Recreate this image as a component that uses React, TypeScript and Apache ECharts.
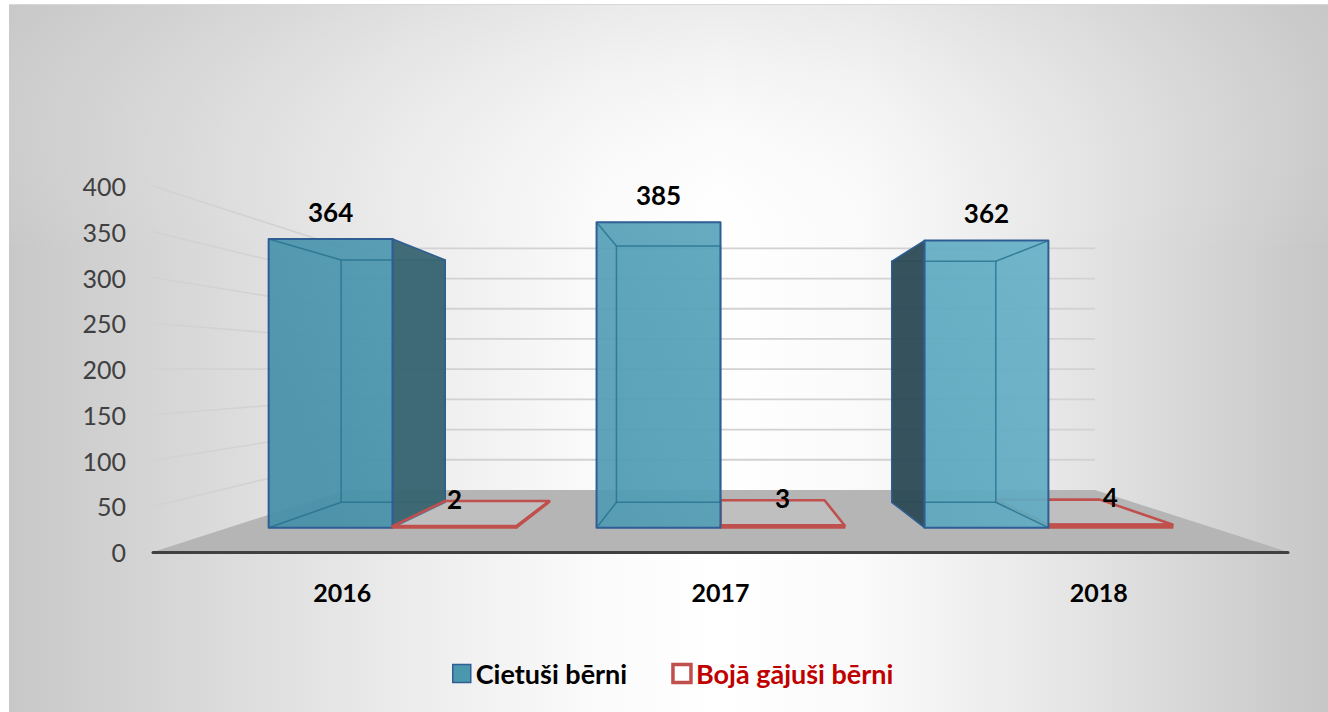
import React, { useEffect, useRef } from "react";
import * as echarts from "echarts";

// ---- data ----
const categories = ["2016", "2017", "2018"];
const injuredChildren = [364, 385, 362];
const killedChildren = [2, 3, 4];
const yTicks = [0, 50, 100, 150, 200, 250, 300, 350, 400];
const seriesNames = ["Cietuši bērni", "Bojā gājuši bērni"];

// ---- projection parameters (3D look) ----
const HORIZON_VALUE = 199.5; // value at which the vanishing point sits (front plane)
const SHRINK = 0.34; // scale reduction from front (z=0) to back wall (z=1)
const Z_FRONT = 0.392;
const Z_BACK = 0.801;
const BAR_FRAC = 0.378; // bar width as fraction of category band
const LABEL_LIFT = 27.5;
const FONT = "Lato, 'Open Sans', sans-serif";

const BLUE_EDGE = "#2e5e94";
const RED = "#c0504d";

function projector(api: any) {
  const vp = api.coord([1, HORIZON_VALUE]);
  return (x: number, y: number, z: number) => {
    const s = 1 - SHRINK * z;
    return [vp[0] + (x - vp[0]) * s, vp[1] + (y - vp[1]) * s];
  };
}

function frameRenderer(params: any, api: any) {
  const v = api.value(1);
  const cs = params.coordSys;
  const P = projector(api);
  const xl = cs.x;
  const xr = cs.x + cs.width;
  const Y = api.coord([0, v])[1];
  if (v === 0) {
    return {
      type: "polygon",
      z2: -200000,
      shape: { points: [[xl, Y], [xr, Y], P(xr, Y, 1), P(xl, Y, 1)] },
      style: { fill: "#b5b5b5", stroke: "none" },
      silent: true,
    };
  }
  const b0 = P(xl, Y, 1);
  const b1 = P(xr, Y, 1);
  return {
    type: "group",
    children: [
      {
        type: "line",
        z2: -300000,
        shape: { x1: xl, y1: Y, x2: b0[0], y2: b0[1] },
        style: { stroke: "#d2d2d2", lineWidth: 1.6 },
        silent: true,
      },
      {
        type: "line",
        z2: -300000,
        shape: { x1: b0[0], y1: b0[1], x2: b1[0], y2: b1[1] },
        style: { stroke: "#d2d2d2", lineWidth: 1.8 },
        silent: true,
      },
    ],
  };
}

function makeBarRenderer(side: "left" | "right", kind: "teal" | "red") {
  return (params: any, api: any) => {
    const idx = api.value(0);
    const v = api.value(1);
    const band = api.size([1, 0])[0];
    const base = api.coord([idx, 0]);
    const top = api.coord([idx, v]);
    const vp = api.coord([1, HORIZON_VALUE]);
    const P = projector(api);
    const w = band * BAR_FRAC;
    const xL = side === "left" ? base[0] - w : base[0];
    const xR = xL + w;
    const y0 = base[1];
    const y1 = top[1];
    const fBL = P(xL, y0, Z_FRONT), fBR = P(xR, y0, Z_FRONT);
    const fTL = P(xL, y1, Z_FRONT), fTR = P(xR, y1, Z_FRONT);
    const bBL = P(xL, y0, Z_BACK), bBR = P(xR, y0, Z_BACK);
    const bTL = P(xL, y1, Z_BACK), bTR = P(xR, y1, Z_BACK);
    const cx = (xL + xR) / 2;
    const dist = Math.abs(cx - vp[0]);
    let z = Math.round((1000 - dist) * 10);
    const rightVisible = xR < vp[0] - 0.5;
    const leftVisible = xL > vp[0] + 0.5;
    const children: any[] = [];
    const lbl = P(cx, y1, Z_FRONT);

    if (kind === "teal") {
      const ga = api.coord([0, 0]);
      const gb = api.coord([2, 400]);
      const grad = new echarts.graphic.LinearGradient(
        ga[0], ga[1], gb[0], gb[1],
        [
          { offset: 0, color: "#4690a8" },
          { offset: 1, color: "#6ab4ca" },
        ],
        true
      );
      children.push({
        type: "polygon", z2: z++,
        shape: { points: [bBL, bBR, bTR, bTL] },
        style: { fill: "rgba(74,151,174,0.25)", stroke: "none" },
      });
      children.push({
        type: "polygon", z2: z++,
        shape: { points: [fBL, fBR, fTR, fTL] },
        style: { fill: grad, opacity: 0.93, stroke: "none" },
      });
      // hidden edges seen through the translucent front
      children.push({
        type: "polygon", z2: z++,
        shape: { points: [bBL, bBR, bTR, bTL] },
        style: { fill: "none", stroke: "rgba(38,112,142,0.8)", lineWidth: 1.5 },
      });
      const hid = leftVisible ? [fBR, bBR, fTR, bTR] : [fBL, bBL, fTL, bTL];
      children.push({
        type: "line", z2: z++,
        shape: { x1: hid[0][0], y1: hid[0][1], x2: hid[1][0], y2: hid[1][1] },
        style: { stroke: "rgba(38,112,142,0.8)", lineWidth: 1.5 },
      });
      children.push({
        type: "line", z2: z++,
        shape: { x1: hid[2][0], y1: hid[2][1], x2: hid[3][0], y2: hid[3][1] },
        style: { stroke: "rgba(38,112,142,0.8)", lineWidth: 1.5 },
      });
      if (rightVisible) {
        children.push({
          type: "polygon", z2: z++,
          shape: { points: [fBR, bBR, bTR, fTR] },
          style: { fill: "rgba(55,100,113,0.95)", stroke: BLUE_EDGE, lineWidth: 1.5, lineJoin: "round" },
        });
      }
      if (leftVisible) {
        children.push({
          type: "polygon", z2: z++,
          shape: { points: [fBL, bBL, bTL, fTL] },
          style: { fill: "rgba(44,74,85,0.95)", stroke: BLUE_EDGE, lineWidth: 1.5, lineJoin: "round" },
        });
      }
      children.push({
        type: "polygon", z2: z++,
        shape: { points: [fBL, fBR, fTR, fTL] },
        style: { fill: "none", stroke: BLUE_EDGE, lineWidth: 2, lineJoin: "round" },
      });
    } else {
      children.push({
        type: "polygon", z2: z++,
        shape: { points: [fTL, fTR, bTR, bTL] },
        style: { fill: "rgba(255,255,255,0.14)", stroke: RED, lineWidth: 2.6, lineJoin: "round" },
      });
      if (rightVisible) {
        children.push({
          type: "polygon", z2: z++,
          shape: { points: [fBR, bBR, bTR, fTR] },
          style: { fill: RED, stroke: RED, lineWidth: 2, lineJoin: "round" },
        });
      }
      if (leftVisible) {
        children.push({
          type: "polygon", z2: z++,
          shape: { points: [fBL, bBL, bTL, fTL] },
          style: { fill: RED, stroke: RED, lineWidth: 2, lineJoin: "round" },
        });
      }
      children.push({
        type: "polygon", z2: z++,
        shape: { points: [fBL, fBR, fTR, fTL] },
        style: { fill: RED, stroke: RED, lineWidth: 2.2, lineJoin: "round" },
      });
    }
    children.push({
      type: "text",
      z2: 900000,
      style: {
        text: String(v),
        x: lbl[0],
        y: lbl[1] - LABEL_LIFT,
        align: "center",
        verticalAlign: "middle",
        textAlign: "center",
        textVerticalAlign: "middle",
        font: `bold 26px ${FONT}`,
        fill: "#000000",
      },
    });
    return { type: "group", children };
  };
}

export default function App() {
  const ref = useRef<HTMLDivElement>(null);
  useEffect(() => {
    const chart = echarts.init(ref.current!, null, { renderer: "svg" });
    const option: any = {
      animation: false,
      backgroundColor: "#ffffff",
      graphic: [
        {
          type: "rect",
          z: -100,
          silent: true,
          shape: { x: 9, y: 4, width: 1319, height: 708 },
          style: {
            fill: new echarts.graphic.LinearGradient(0, 0, 1, 0, [
              { offset: 0, color: "#c8c8c8" },
              { offset: 0.12, color: "#d6d6d6" },
              { offset: 0.3, color: "#ececec" },
              { offset: 0.45, color: "#fbfbfb" },
              { offset: 0.54, color: "#ffffff" },
              { offset: 0.65, color: "#fafafa" },
              { offset: 0.8, color: "#e6e6e6" },
              { offset: 1, color: "#c6c6c6" },
            ]),
          },
        },
        {
          type: "rect",
          z: -99,
          silent: true,
          shape: { x: 9, y: 4, width: 1319, height: 708 },
          style: {
            fill: new echarts.graphic.LinearGradient(0, 0, 0, 1, [
              { offset: 0, color: "rgba(200,200,200,0.35)" },
              { offset: 0.35, color: "rgba(255,255,255,0)" },
              { offset: 1, color: "rgba(255,255,255,0)" },
            ]),
          },
        },
        {
          type: "line",
          z: -98,
          silent: true,
          shape: { x1: 9, y1: 4.5, x2: 1328, y2: 4.5 },
          style: { stroke: "#d8d8d8", lineWidth: 1 },
        },
      ],
      grid: { left: 153, right: 40, top: 186, bottom: 160 },
      legend: {
        left: 447,
        top: 655,
        icon: "rect",
        itemWidth: 18,
        itemHeight: 18,
        itemGap: 44,
        selectedMode: false,
        textStyle: { fontFamily: FONT, fontSize: 27, fontWeight: "bold" },
        data: [
          {
            name: seriesNames[0],
            itemStyle: { color: "#4a97ae", borderColor: BLUE_EDGE, borderWidth: 1.5 },
            textStyle: { color: "#000000" },
          },
          {
            name: seriesNames[1],
            itemStyle: { color: "#ffffff", borderColor: RED, borderWidth: 3.5 },
            textStyle: { color: "#c00000" },
          },
        ],
      },
      xAxis: {
        type: "category",
        data: categories,
        z: 10,
        axisLine: { show: true, lineStyle: { color: "#404040", width: 3 } },
        axisTick: { show: false },
        splitLine: { show: false },
        axisLabel: { margin: 27, color: "#000000", fontWeight: "bold", fontSize: 25, fontFamily: FONT },
      },
      yAxis: {
        type: "value",
        min: 0,
        max: 400,
        interval: 50,
        axisLine: { show: false },
        axisTick: { show: false },
        splitLine: { show: false },
        axisLabel: { margin: 27, color: "#404040", fontSize: 25, fontFamily: FONT },
      },
      series: [
        {
          type: "custom",
          name: "frame",
          silent: true,
          renderItem: frameRenderer,
          data: yTicks.map((t) => [0, t]),
          encode: { x: 0, y: 1 },
        },
        {
          type: "custom",
          name: seriesNames[0],
          renderItem: makeBarRenderer("left", "teal"),
          itemStyle: { color: "#4a97ae" },
          data: injuredChildren.map((v, i) => [i, v]),
          encode: { x: 0, y: 1 },
        },
        {
          type: "custom",
          name: seriesNames[1],
          renderItem: makeBarRenderer("right", "red"),
          itemStyle: { color: RED },
          data: killedChildren.map((v, i) => [i, v]),
          encode: { x: 0, y: 1 },
        },
      ],
    };
    chart.setOption(option);
    return () => chart.dispose();
  }, []);
  return (
    <div
      ref={ref}
      style={{ position: "fixed", left: 0, top: 0, width: 1328, height: 712 }}
    />
  );
}
